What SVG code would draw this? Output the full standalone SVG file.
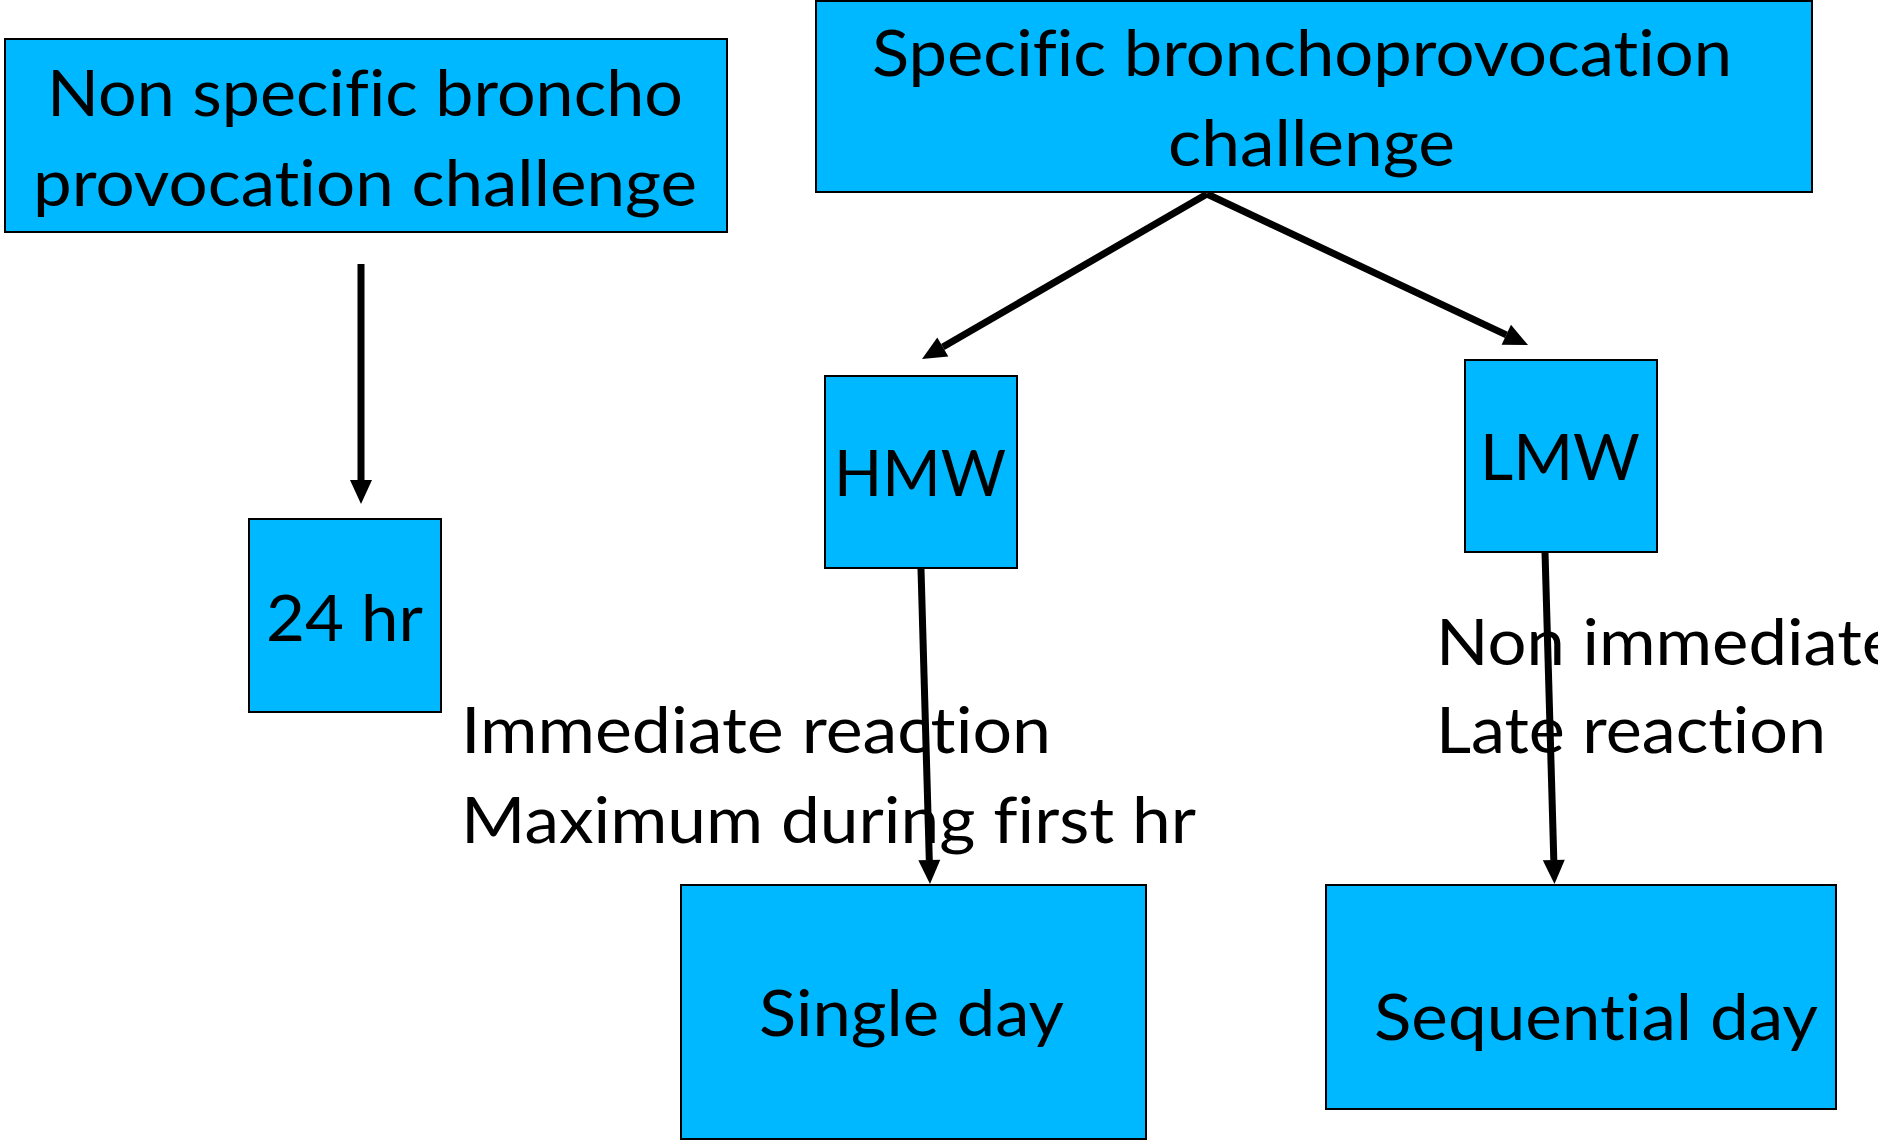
<svg xmlns="http://www.w3.org/2000/svg" width="1878" height="1141" viewBox="0 0 1878 1141">
<style>
.box{fill:#00B8FF;stroke:#000;stroke-width:2}
.t{font-family:Lato,"Open Sans","Liberation Sans",sans-serif;font-size:64px;fill:#000;font-variant-ligatures:none;font-feature-settings:"liga" 0,"clig" 0}
.c{fill:none;stroke:#000;stroke-width:7}
</style>
<defs>
<marker id="ah" markerUnits="userSpaceOnUse" markerWidth="24" markerHeight="22" refX="0" refY="11" orient="auto" overflow="visible">
<path d="M0,0 L24,11 L0,22 Z" fill="#000"/>
</marker>
</defs>
<rect width="1878" height="1141" fill="#fff"/>
<g id="nonspecific">
<rect class="box" x="5" y="39" width="722" height="193"/>
<text class="t" x="47" y="116" textLength="636" lengthAdjust="spacingAndGlyphs">Non specific broncho</text>
<text class="t" x="33" y="206" textLength="664" lengthAdjust="spacingAndGlyphs">provocation challenge</text>
</g>
<g id="specific">
<rect class="box" x="816" y="1" width="996" height="191"/>
<text class="t" x="872" y="76" textLength="860" lengthAdjust="spacingAndGlyphs">Specific bronchoprovocation</text>
<text class="t" x="1168" y="166" textLength="287" lengthAdjust="spacingAndGlyphs">challenge</text>
</g>
<g id="hr24">
<rect class="box" x="249" y="519" width="192" height="193"/>
<text class="t" x="266" y="641" textLength="157" lengthAdjust="spacingAndGlyphs">24 hr</text>
</g>
<g id="hmw">
<rect class="box" x="825" y="376" width="192" height="192"/>
<text class="t" x="834" y="496" textLength="172" lengthAdjust="spacingAndGlyphs">HMW</text>
</g>
<g id="lmw">
<rect class="box" x="1465" y="360" width="192" height="192"/>
<text class="t" x="1480" y="480" textLength="160" lengthAdjust="spacingAndGlyphs">LMW</text>
</g>
<g id="singleday">
<rect class="box" x="681" y="885" width="465" height="254"/>
<text class="t" x="759" y="1036" textLength="305" lengthAdjust="spacingAndGlyphs">Single day</text>
</g>
<g id="sequentialday">
<rect class="box" x="1326" y="885" width="510" height="224"/>
<text class="t" x="1374" y="1040" textLength="444" lengthAdjust="spacingAndGlyphs">Sequential day</text>
</g>
<g id="labels">
<text class="t" x="461" y="753" textLength="590" lengthAdjust="spacingAndGlyphs">Immediate reaction</text>
<text class="t" x="461" y="843" textLength="735" lengthAdjust="spacingAndGlyphs">Maximum during first hr</text>
<text class="t" x="1436" y="665" textLength="462" lengthAdjust="spacingAndGlyphs">Non immediate</text>
<text class="t" x="1436" y="753" textLength="390" lengthAdjust="spacingAndGlyphs">Late reaction</text>
</g>
<g id="connectors">
<line class="c" x1="361" y1="264" x2="361" y2="480" marker-end="url(#ah)"/>
<line class="c" x1="1207" y1="194" x2="942.8" y2="347" marker-end="url(#ah)"/>
<line class="c" x1="1207" y1="194" x2="1506.3" y2="334.8" marker-end="url(#ah)"/>
<line class="c" x1="921" y1="569" x2="929.3" y2="860" marker-end="url(#ah)"/>
<line class="c" x1="1545" y1="552" x2="1553.8" y2="860" marker-end="url(#ah)"/>
</g>
</svg>
